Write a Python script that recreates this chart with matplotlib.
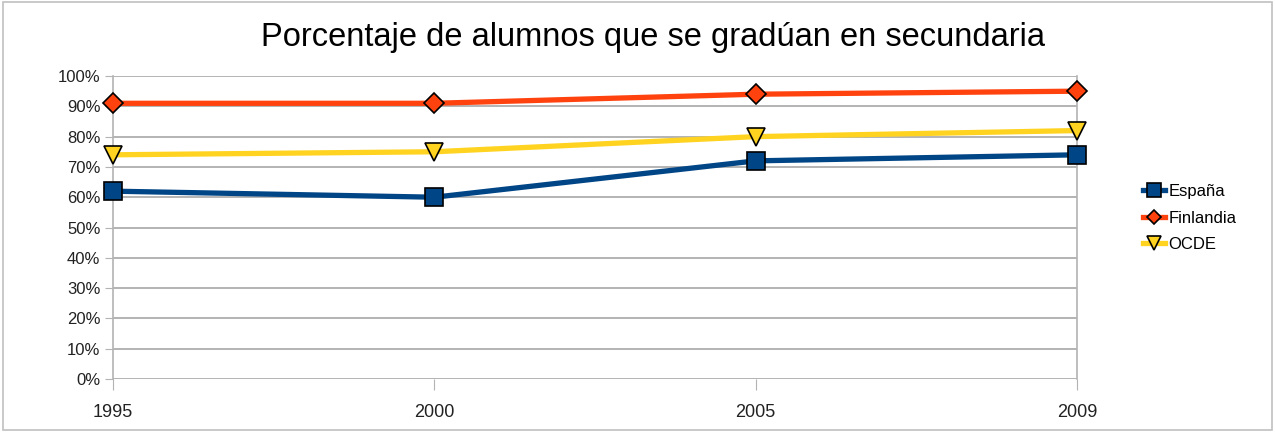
import matplotlib.pyplot as plt
from matplotlib.patches import Rectangle
from matplotlib.ticker import PercentFormatter

# datos
anios = ['1995', '2000', '2005', '2009']
espana = [62, 60, 72, 74]
finlandia = [91, 91, 94, 95]
ocde = [74, 75, 80, 82]

plt.rcParams['font.family'] = ['Liberation Sans', 'DejaVu Sans']

fig = plt.figure(figsize=(12.75, 4.32), dpi=100)
ax = fig.add_axes([0.0886, 0.1227, 0.7561, 0.7013])

x = range(len(anios))
ax.plot(x, espana, color='#004586', lw=3.8, marker='s', ms=13,
        mfc='#004586', mec='black', mew=1.2, label='España', zorder=5, clip_on=False)
ax.plot(x, finlandia, color='#ff420e', lw=3.8, marker='D', ms=10,
        mfc='#ff420e', mec='black', mew=1.2, label='Finlandia', zorder=4, clip_on=False)
ax.plot(x, ocde, color='#ffd320', lw=3.8, marker='v', ms=13,
        mfc='#ffd320', mec='black', mew=1.2, label='OCDE', zorder=3, clip_on=False)

ax.set_xlim(0, 3)
ax.set_ylim(0, 100)
ax.set_yticks(range(0, 101, 10))
ax.yaxis.set_major_formatter(PercentFormatter(decimals=0))
ax.set_xticks(list(x))
ax.set_xticklabels(anios)
ax.grid(axis='y', color='#b3b3b3', lw=1.4)
ax.set_axisbelow(True)
for s in ['top', 'bottom']:
    ax.spines[s].set_visible(False)
for s in ['left', 'right']:
    ax.spines[s].set_color('#b3b3b3')
    ax.spines[s].set_linewidth(1.2)
ax.tick_params(axis='y', length=6, color='#b3b3b3', labelsize=12, pad=3, labelcolor='#222222')
ax.tick_params(axis='x', length=8, color='#b3b3b3', labelsize=13, pad=10, labelcolor='#222222')

fig.suptitle('Porcentaje de alumnos que se gradúan en secundaria',
             x=0.512, y=0.95, fontsize=23.5)

fig.legend(loc='center left', bbox_to_anchor=(0.885, 0.495), frameon=False,
           fontsize=12, handlelength=1.3, handletextpad=0.2, labelspacing=0.7,
           markerscale=0.75)

fig.patches.append(Rectangle((0.002, 0.004), 0.996, 0.992, transform=fig.transFigure,
                             fill=False, ec='#c0c0c0', lw=1.2))

fig.savefig('out.png', dpi=100)
